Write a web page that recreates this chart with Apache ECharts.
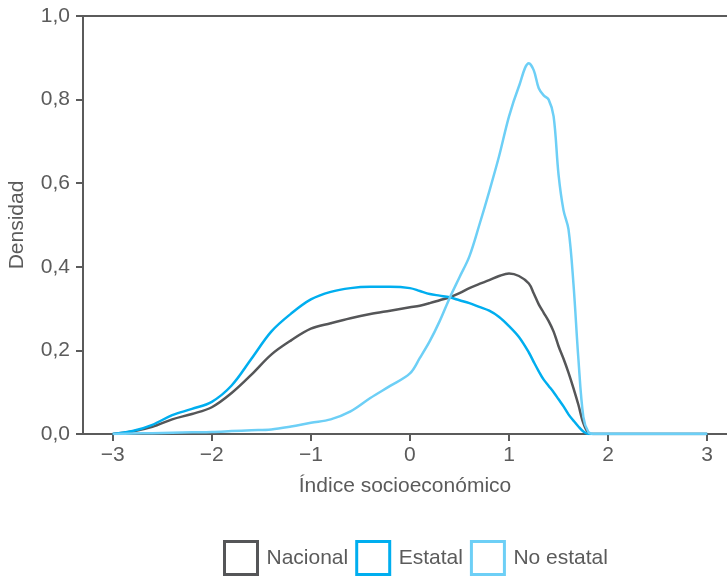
<!DOCTYPE html>
<html>
<head>
<meta charset="utf-8">
<script src="https://cdn.jsdelivr.net/npm/echarts@6/dist/echarts.min.js"></script>
<style>
html,body{margin:0;padding:0;background:#fff;}
#chart{width:727px;height:578px;}
</style>
</head>
<body>
<div id="chart"></div>
<script>
var xs = [-3.0,-2.8,-2.6,-2.4,-2.2,-2.0,-1.8,-1.6,-1.4,-1.2,-1.0,-0.8,-0.6,-0.4,-0.2,0.0,0.1,0.2,0.3,0.4,0.5,0.6,0.7,0.8,0.9,1.0,1.1,1.2,1.25,1.3,1.35,1.4,1.45,1.5,1.55,1.6,1.65,1.7,1.75,1.8,1.85,2.0,3.0];
var nacional = [0,0.006,0.017,0.035,0.048,0.064,0.098,0.142,0.19,0.224,0.252,0.265,0.277,0.287,0.295,0.303,0.307,0.313,0.32,0.327,0.337,0.349,0.359,0.368,0.378,0.384,0.378,0.36,0.336,0.31,0.29,0.27,0.245,0.21,0.18,0.147,0.11,0.07,0.026,0.003,0,0,0];
var estatal = [0,0.007,0.022,0.045,0.06,0.077,0.116,0.18,0.245,0.288,0.322,0.34,0.349,0.352,0.352,0.349,0.342,0.335,0.331,0.327,0.32,0.313,0.304,0.295,0.28,0.258,0.232,0.195,0.172,0.15,0.13,0.115,0.1,0.083,0.066,0.047,0.032,0.018,0.006,0,0,0,0];
var noEstatal = [0,0.001,0.002,0.003,0.004,0.005,0.007,0.009,0.011,0.018,0.027,0.035,0.054,0.086,0.115,0.145,0.182,0.222,0.27,0.325,0.375,0.425,0.5,0.58,0.665,0.76,0.832,0.887,0.87,0.827,0.81,0.8,0.76,0.62,0.535,0.49,0.36,0.18,0.041,0.005,0,0,0];
var xTicks = [-3,-2,-1,0,1,2,3];
var seriesNames = ['Nacional','Estatal','No estatal'];
var colors = ['#555658','#00AEEF','#6DCFF6'];

function pairs(ys){ return xs.map(function(x,i){ return [x, ys[i]]; }); }
var axisColor = '#5b5b5b';
var textColor = '#5b5b5b';
var font = '"Liberation Sans", Arial, Helvetica, sans-serif';

var chart = echarts.init(document.getElementById('chart'), null, {renderer:'canvas'});
var allData = [nacional, estatal, noEstatal];
chart.setOption({
  animation: false,
  textStyle: {fontFamily: font},
  grid: {left: 83, right: 0, top: 16, bottom: 144, containLabel: false, outerBoundsMode: 'none'},
  xAxis: [{
    type: 'value', min: -3.3, max: 3.2, position: 'bottom',
    axisLine: {show: true, onZero: false, lineStyle: {color: axisColor, width: 2}},
    axisTick: {show: true, customValues: xTicks, length: 7, lineStyle: {color: axisColor, width: 2}},
    axisLabel: {customValues: xTicks, color: textColor, fontSize: 21, fontFamily: font, margin: 11,
      formatter: function(v){ return String(v).replace('-', '\u2212'); }},
    splitLine: {show: false},
    name: 'Índice socioeconómico', nameLocation: 'middle', nameGap: 42,
    nameTextStyle: {color: textColor, fontSize: 21, fontFamily: font}
  },{
    type: 'value', min: -3.3, max: 3.2, position: 'top',
    axisLine: {show: true, onZero: false, lineStyle: {color: axisColor, width: 2}},
    axisTick: {show: false}, axisLabel: {show: false}, splitLine: {show: false}
  }],
  yAxis: {
    type: 'value', min: 0, max: 1, interval: 0.2, position: 'left',
    axisLine: {show: true, onZero: false, lineStyle: {color: axisColor, width: 2}},
    axisTick: {show: true, length: 7, lineStyle: {color: axisColor, width: 2}},
    axisLabel: {color: textColor, fontSize: 21, fontFamily: font, margin: 13,
      formatter: function(v){ return v.toFixed(1).replace('.', ','); }},
    splitLine: {show: false},
    name: 'Densidad', nameLocation: 'middle', nameGap: 55,
    nameTextStyle: {color: textColor, fontSize: 21, fontFamily: font}
  },
  legend: {
    left: 223, top: 540, padding: 0, itemGap: 7, itemWidth: 33, itemHeight: 33,
    icon: 'rect',
    textStyle: {color: textColor, fontSize: 21, fontFamily: font, padding: [0,0,0,4]},
    data: seriesNames.map(function(n,i){ return {name: n, icon: 'rect', itemStyle: {color: '#ffffff', borderColor: colors[i], borderWidth: 3}}; })
  },
  series: seriesNames.map(function(n,i){
    return {
      name: n, type: 'line', data: pairs(allData[i]), smooth: 0.35,
      showSymbol: false, symbol: 'none',
      lineStyle: {color: colors[i], width: 2.5},
      itemStyle: {color: colors[i]}
    };
  })
});
</script>
</body>
</html>
